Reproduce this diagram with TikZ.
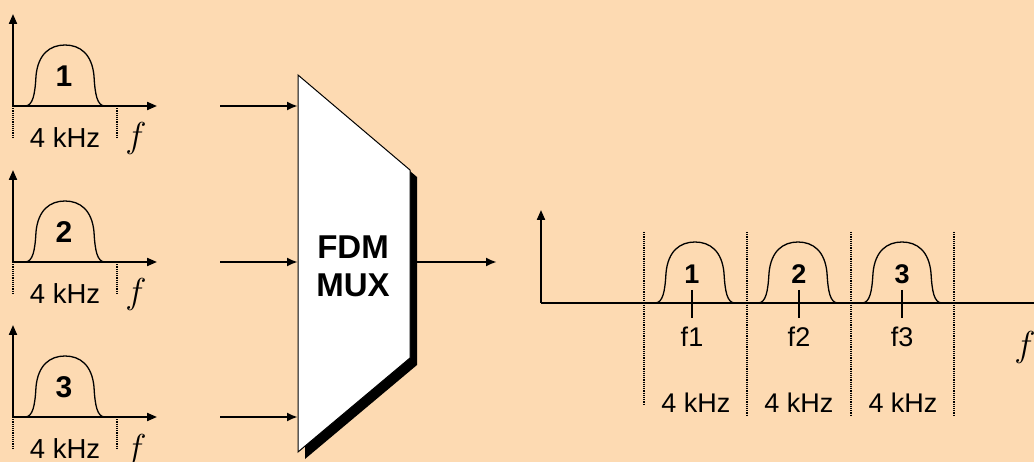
\RequirePackage{fix-cm}
\documentclass[tikz,border=0pt]{standalone}
\usepackage{fontspec}
\setmainfont{Liberation Sans}
\usetikzlibrary{arrows.meta}
\definecolor{bg}{HTML}{FDDAB2}
\newcommand\specbump[2]{\draw[bumpline] (#1,#2) .. controls ({#1+8},#2) and ({#1+10},{#2-12}) .. ({#1+11},{#2-30}) .. controls ({#1+13},{#2-52}) and ({#1+25},{#2-61}) .. ({#1+40},{#2-61}) .. controls ({#1+55},{#2-61}) and ({#1+67},{#2-52}) .. ({#1+69},{#2-30}) .. controls ({#1+70},{#2-12}) and ({#1+72},#2) .. ({#1+80},#2);}
\begin{document}
\begin{tikzpicture}[x=1pt,y=-1pt,
  axis/.style={line width=2pt,-{Triangle[length=10pt,width=8pt]}},
  bumpline/.style={line width=1.3pt},
  dots/.style={densely dotted,line width=1.2pt},
  lbl/.style={font=\fontsize{27.5}{30}\selectfont,inner sep=0pt},
  lblr/.style={font=\fontsize{27}{30}\selectfont,inner sep=0pt},
  num/.style={font=\bfseries\fontsize{30}{32}\selectfont,inner sep=0pt},
  numr/.style={font=\bfseries\fontsize{27}{30}\selectfont,inner sep=0pt},
  ff/.style={font=\fontsize{36}{38}\selectfont,inner sep=0pt},
  feed/.style={line width=2.5pt,-{Latex[length=11pt,width=9pt]}}]
\fill[bg] (0,0) rectangle (1034,462);
\useasboundingbox (0,0) rectangle (1034,462);
% input spectra
\foreach \b/\n in {106/1,262/2,417/3}{
  \coordinate (o\n) at (13,\b);
  \coordinate (yt\n) at (13,{\b-92});
  \coordinate (xt\n) at (157,\b);
  \draw[axis] (o\n) -- (yt\n);
  \draw[axis] (o\n) -- (xt\n);
  \coordinate (da\n) at (13,{\b+31});
  \coordinate (db\n) at (117,\b);
  \coordinate (dc\n) at (117,{\b+31});
  \draw[dots] (o\n) -- (da\n);
  \draw[dots] (db\n) -- (dc\n);
  \specbump{25}{\b}
  \node[num] (num\n) at (64,{\b-30}) {\n};
  \node[lbl] (bw\n) at (65,{\b+32}) {4 kHz};
  \node[ff] (f\n) at (136,{\b+33}) {$f$};
  \coordinate (s\n) at (220,\b);
  \coordinate (m\n) at (298,\b);
  \draw[feed] (s\n) -- (m\n);
}
% multiplexer
\fill[black] (305,82) -- (417,177) -- (417,365) -- (305,459) -- cycle;
\draw[fill=white,line width=1pt] (298,75) -- (410,170) -- (410,358) -- (298,452) -- cycle;
\node[align=center,font=\bfseries\fontsize{33}{38}\selectfont,inner sep=0pt] (mux) at (353,266) {FDM\\MUX};
\coordinate (mo) at (417,262);
\coordinate (me) at (497,262);
\draw[feed] (mo) -- (me);
% output spectrum
\coordinate (O) at (541,303);
\coordinate (Oy) at (541,210);
\coordinate (Ox) at (1034,303);
\draw[axis] (O) -- (Oy);
\draw[line width=2pt] (O) -- (Ox);
\foreach \x/\e in {644/404,747/415,851/415,954/415}{
  \coordinate (dt\x) at (\x,232);
  \coordinate (db\x) at (\x,\e);
  \draw[dots] (dt\x) -- (db\x);
}
\foreach \a/\c/\n in {655/692/1,758/799/2,862/902/3}{
  \specbump{\a}{303}
  \coordinate (tt\n) at (\c,290);
  \coordinate (tb\n) at (\c,318);
  \draw[line width=2pt] (tt\n) -- (tb\n);
  \node[numr] (rn\n) at (\c,274) {\n};
  \node[lblr] (fc\n) at (\c,337) {f\n};
}
\node[lblr] (rb1) at (696,403) {4 kHz};
\node[lblr] (rb2) at (799,403) {4 kHz};
\node[lblr] (rb3) at (903,403) {4 kHz};
\node[ff] (fr) at (1025,348) {$f$};
\end{tikzpicture}
\end{document}
